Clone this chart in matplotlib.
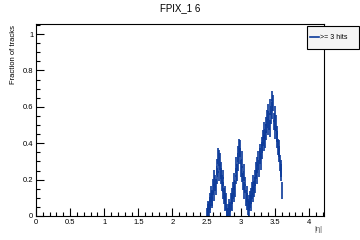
import numpy as np
import matplotlib
matplotlib.use("Agg")
import matplotlib.pyplot as plt
from matplotlib.ticker import MultipleLocator, FuncFormatter
from matplotlib.lines import Line2D
from matplotlib.patches import Rectangle

title = "FPIX_1 6"
xlabel = "|\u03b7|"
ylabel = "Fraction of tracks"
legend_label = ">= 3 hits"

bin_lo = 2.50
bin_width = 0.01
fraction = [
    0.00, 0.02, 0.04, 0.03, 0.08, 0.06, 0.12, 0.09, 0.10, 0.16,
    0.13, 0.21, 0.18, 0.16, 0.27, 0.22, 0.33, 0.24, 0.32, 0.30,
    0.22, 0.25, 0.18, 0.14, 0.21, 0.11, 0.12, 0.07, 0.08, 0.02,
    0.00, 0.00, 0.02, 0.05, 0.03, 0.08, 0.11, 0.07, 0.14, 0.12,
    0.19, 0.15, 0.22, 0.28, 0.24, 0.34, 0.29, 0.38, 0.33, 0.37,
    0.26, 0.31, 0.23, 0.19, 0.24, 0.14, 0.17, 0.10, 0.08, 0.12,
    0.05, 0.07, 0.04, 0.09, 0.11, 0.07, 0.14, 0.12, 0.18, 0.15,
    0.21, 0.17, 0.25, 0.22, 0.28, 0.31, 0.26, 0.35, 0.33, 0.30,
    0.39, 0.36, 0.43, 0.40, 0.47, 0.42, 0.50, 0.46, 0.54, 0.49,
    0.57, 0.52, 0.48, 0.60, 0.55, 0.64, 0.58, 0.62, 0.52, 0.56,
    0.47, 0.51, 0.42, 0.45, 0.38, 0.34, 0.37, 0.29, 0.24, 0.26,
    0.14,
]
errors = [0.045] * len(fraction)

color = "#0b3a9a"
plt.rcParams['font.family'] = ['Liberation Sans', 'DejaVu Sans']

fig = plt.figure(figsize=(3.6, 2.4), dpi=100)
ax = fig.add_axes([0.1, 0.1, 0.8, 0.8])

x = bin_lo + bin_width * (np.arange(len(fraction)) + 0.5)
ax.errorbar(x, fraction, yerr=errors, xerr=bin_width / 2, fmt='none',
            ecolor=color, elinewidth=1.2, capsize=0)

ax.set_xlim(0, 4.22)
ax.set_ylim(0, 1.055)
ax.xaxis.set_major_locator(MultipleLocator(0.5))
ax.xaxis.set_minor_locator(MultipleLocator(0.1))
ax.yaxis.set_major_locator(MultipleLocator(0.2))
ax.yaxis.set_minor_locator(MultipleLocator(0.05))
ax.tick_params(which='both', direction='in', labelsize=5.5, width=0.8, pad=2)
ax.tick_params(which='major', length=6)
ax.tick_params(which='minor', length=3)
ax.xaxis.set_major_formatter(FuncFormatter(lambda v, p: f"{v:g}"))
ax.yaxis.set_major_formatter(FuncFormatter(lambda v, p: f"{v:g}"))
for s in ax.spines.values():
    s.set_linewidth(0.8)

fig.text(0.5, 0.965, title, ha='center', va='center', fontsize=7)
fig.text(0.037, 0.895, ylabel, rotation=90, ha='center', va='top', fontsize=5.5)
fig.text(0.895, 0.045, xlabel, ha='right', va='center', fontsize=5.5, color='#555555')

# legend box
fig.patches.append(Rectangle((0.853, 0.795), 0.145, 0.097, transform=fig.transFigure,
                             facecolor='#f4f4f4', edgecolor='black', linewidth=0.8))
fig.lines.append(Line2D([0.862, 0.885], [0.845, 0.845], transform=fig.transFigure,
                        color=color, linewidth=1.2))
fig.text(0.888, 0.845, legend_label, ha='left', va='center', fontsize=5)

fig.savefig("out.png", dpi=100)
